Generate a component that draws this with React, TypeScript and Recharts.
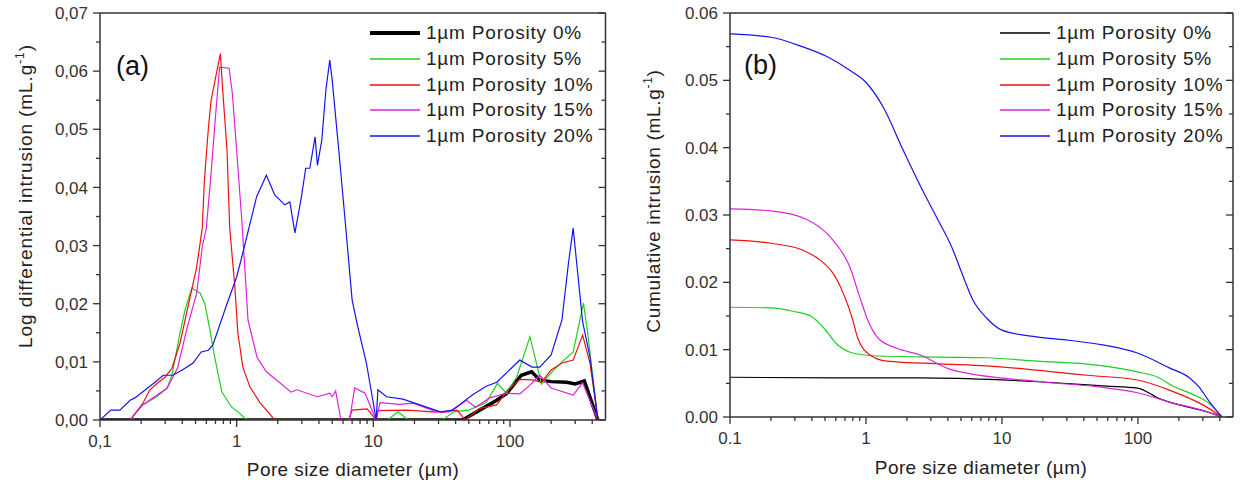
import React from "react";
import { LineChart, Line, XAxis, YAxis } from "recharts";

// ---------- shared x ticks (log scale) ----------
const xTicks = [0.1, 0.2, 0.3, 0.4, 0.5, 0.6, 0.7, 0.8, 0.9, 1, 2, 3, 4, 5, 6, 7, 8, 9, 10, 20, 30, 40, 50, 60, 70, 80, 90, 100, 200, 300, 400];
const xMajor = [0.1, 1, 10, 100];
const xMajorLabelsA = ["0,1", "1", "10", "100"];
const xMajorLabelsB = ["0.1", "1", "10", "100"];

// ---------- y ticks ----------
const yTicksA = [0, 0.005, 0.01, 0.015, 0.02, 0.025, 0.03, 0.035, 0.04, 0.045, 0.05, 0.055, 0.06, 0.065, 0.07];
const yMajorA = [0, 0.01, 0.02, 0.03, 0.04, 0.05, 0.06, 0.07];
const yMajorLabelsA = ["0,00", "0,01", "0,02", "0,03", "0,04", "0,05", "0,06", "0,07"];
const yTicksB = [0, 0.005, 0.01, 0.015, 0.02, 0.025, 0.03, 0.035, 0.04, 0.045, 0.05, 0.055, 0.06];
const yMajorB = [0, 0.01, 0.02, 0.03, 0.04, 0.05, 0.06];
const yMajorLabelsB = ["0.00", "0.01", "0.02", "0.03", "0.04", "0.05", "0.06"];

// ---------- series names / colors ----------
const seriesNames = ["1µm Porosity 0%", "1µm Porosity 5%", "1µm Porosity 10%", "1µm Porosity 15%", "1µm Porosity 20%"];
const seriesColors = ["#000000", "#22cc22", "#ee1111", "#dd22dd", "#1414ee"];

// ---------- panel (a): log differential intrusion ----------
const a0: [number, number][] = [[0.1, 0], [45, 0], [60, 0.0017], [80, 0.0034], [95, 0.0046], [121, 0.0077], [144, 0.0083], [165, 0.0069], [200, 0.0066], [260, 0.0065], [300, 0.0062], [350, 0.0067], [440, 0]];
const a5: [number, number][] = [[0.166, 0], [0.205, 0.0026], [0.26, 0.004], [0.31, 0.0055], [0.336, 0.0077], [0.385, 0.015], [0.42, 0.019], [0.47, 0.0227], [0.54, 0.0218], [0.585, 0.02], [0.637, 0.0155], [0.69, 0.0108], [0.78, 0.0048], [0.92, 0.0022], [1.02, 0.0014], [1.19, 0], [12.7, 0], [15.2, 0.0014], [18, 0], [32, 0], [39, 0.0014], [50, 0.0017], [67, 0.003], [81, 0.0063], [94, 0.0046], [112, 0.0074], [140, 0.0143], [170, 0.0062], [200, 0.0081], [240, 0.01], [290, 0.0117], [345, 0.0201], [370, 0.015], [440, 0]];
const a10: [number, number][] = [[0.166, 0], [0.205, 0.0028], [0.232, 0.0052], [0.265, 0.0064], [0.3, 0.0074], [0.336, 0.0089], [0.385, 0.0132], [0.43, 0.0184], [0.51, 0.0263], [0.56, 0.033], [0.58, 0.041], [0.62, 0.05], [0.65, 0.055], [0.76, 0.063], [0.79, 0.0568], [0.85, 0.0464], [0.89, 0.033], [0.97, 0.0229], [1.02, 0.015], [1.11, 0.0091], [1.25, 0.0057], [1.48, 0.003], [1.9, 0], [6.6, 0], [7, 0.0017], [9, 0.0019], [10.5, 0], [10.8, 0.0016], [17.5, 0.0017], [27, 0.0014], [33, 0.0014], [41, 0.0017], [47, 0], [60, 0.002], [80, 0.0026], [95, 0.005], [118, 0.007], [145, 0.0069], [170, 0.0065], [200, 0.0086], [240, 0.0098], [290, 0.0103], [340, 0.0146], [385, 0.0098], [440, 0]];
const a15: [number, number][] = [[0.166, 0], [0.205, 0.0026], [0.31, 0.0055], [0.37, 0.009], [0.43, 0.0155], [0.51, 0.0218], [0.56, 0.0298], [0.6, 0.033], [0.65, 0.0425], [0.71, 0.054], [0.75, 0.0607], [0.88, 0.0605], [0.93, 0.0562], [1.0, 0.0464], [1.09, 0.0344], [1.15, 0.0258], [1.21, 0.0172], [1.41, 0.0108], [1.65, 0.0083], [2.07, 0.0064], [2.5, 0.0048], [2.75, 0.0052], [3.9, 0.004], [4.8, 0.0046], [5.0, 0.004], [5.3, 0.005], [5.8, 0], [6.7, 0], [7.3, 0.0055], [8.7, 0.0046], [10.5, 0], [11.2, 0.003], [15.6, 0.0027], [19.6, 0.0029], [29, 0.0014], [36, 0.0014], [48, 0.0034], [56, 0.0022], [71, 0.0038], [94, 0.0046], [118, 0.0045], [140, 0.006], [165, 0.0077], [200, 0.0055], [290, 0.0043], [340, 0.0064], [440, 0]];
const a20: [number, number][] = [[0.1, 0], [0.12, 0.0017], [0.14, 0.0017], [0.166, 0.0034], [0.18, 0.0038], [0.25, 0.0064], [0.29, 0.0077], [0.34, 0.0077], [0.4, 0.0086], [0.48, 0.0098], [0.55, 0.0117], [0.62, 0.012], [0.67, 0.0129], [0.85, 0.02], [1.0, 0.0246], [1.09, 0.028], [1.4, 0.0384], [1.65, 0.0421], [1.9, 0.0387], [2.25, 0.037], [2.45, 0.0375], [2.67, 0.0322], [2.98, 0.0384], [3.2, 0.0433], [3.43, 0.0433], [3.75, 0.0487], [3.9, 0.0438], [4.2, 0.0482], [4.5, 0.0568], [4.8, 0.0619], [5.0, 0.0585], [5.7, 0.0442], [6.4, 0.031], [7.0, 0.0206], [7.7, 0.016], [8.9, 0.0098], [10.5, 0], [10.8, 0.0052], [12.5, 0.004], [16.5, 0.0036], [31, 0.0014], [38, 0.0017], [53, 0.0043], [67, 0.0058], [80, 0.0065], [118, 0.0103], [145, 0.0091], [165, 0.0091], [200, 0.0112], [240, 0.0172], [268, 0.027], [290, 0.033], [340, 0.0169], [385, 0.0108], [440, 0]];

// ---------- panel (b): cumulative intrusion ----------
const b0: [number, number][] = [[0.1, 0.0059], [0.6, 0.0058], [2.5, 0.0058], [10, 0.0055], [20, 0.0052], [59, 0.0046], [99, 0.0043], [145, 0.0027], [230, 0.0015], [320, 0.0008], [415, 0]];
const b5: [number, number][] = [[0.1, 0.0163], [0.2, 0.0162], [0.29, 0.0157], [0.4, 0.0149], [0.48, 0.0134], [0.62, 0.0107], [0.8, 0.0095], [1.13, 0.0091], [3.5, 0.0089], [7.7, 0.0088], [18, 0.0083], [50, 0.0077], [99, 0.0067], [140, 0.0059], [180, 0.0046], [250, 0.0034], [330, 0.0021], [415, 0]];
const b10: [number, number][] = [[0.1, 0.0263], [0.2, 0.0258], [0.34, 0.0248], [0.46, 0.0233], [0.57, 0.0214], [0.68, 0.0184], [0.8, 0.0144], [0.87, 0.0117], [1.07, 0.0092], [1.42, 0.0083], [3.5, 0.0079], [7.7, 0.0076], [42, 0.0062], [99, 0.0055], [170, 0.004], [300, 0.0018], [415, 0]];
const b15: [number, number][] = [[0.1, 0.0309], [0.2, 0.0306], [0.37, 0.0293], [0.57, 0.0263], [0.76, 0.0223], [0.9, 0.0178], [1.03, 0.0144], [1.23, 0.0117], [1.69, 0.0102], [2.5, 0.0092], [4.3, 0.007], [20, 0.0052], [50, 0.0045], [99, 0.0036], [180, 0.0021], [320, 0.0008], [415, 0]];
const b20: [number, number][] = [[0.1, 0.0569], [0.2, 0.0564], [0.34, 0.055], [0.52, 0.0535], [0.76, 0.0515], [1.01, 0.0496], [1.34, 0.046], [1.87, 0.0397], [2.6, 0.0337], [3.3, 0.0297], [4.3, 0.0251], [5.2, 0.0208], [6.1, 0.0174], [7.7, 0.0147], [10, 0.0129], [18, 0.0119], [31, 0.0114], [55, 0.0107], [99, 0.0095], [170, 0.0073], [240, 0.0058], [280, 0.0045], [340, 0.0021], [415, 0]];

const toPts = (arr: [number, number][]) => arr.map(([x, y]) => ({ x, y }));
const seriesA = [a0, a5, a10, a15, a20].map(toPts);
const seriesB = [b0, b5, b10, b15, b20].map(toPts);

const FONT = '"Liberation Sans", Arial, sans-serif';
const AXIS = "#333333";
const TXT = "#333333";

const near = (a: number, b: number) => Math.abs(a - b) <= 1e-9 + Math.abs(b) * 1e-9;

function makeXTick(side: "bottom" | "top", majors: number[], labels: string[]) {
  return (props: any) => {
    const { x, y, payload } = props;
    const idx = majors.findIndex((m) => near(m, payload.value));
    const major = idx >= 0;
    const len = major ? 7 : 4;
    if (side === "bottom") {
      return (
        <g>
          <line x1={x} x2={x} y1={y} y2={y + len} stroke={AXIS} strokeWidth={1.3} />
          {major && (
            <text x={x} y={y + 27} textAnchor="middle" fontSize={17} fontFamily={FONT} fill={TXT}>
              {labels[idx]}
            </text>
          )}
        </g>
      );
    }
    return <line x1={x} x2={x} y1={y} y2={y + len} stroke={AXIS} strokeWidth={1.3} />;
  };
}

function makeYTick(side: "left" | "right", majors: number[], labels: string[]) {
  return (props: any) => {
    const { x, y, payload } = props;
    const idx = majors.findIndex((m) => near(m, payload.value));
    const major = idx >= 0;
    const len = major ? 7 : 4;
    if (side === "left") {
      return (
        <g>
          <line x1={x - len} x2={x} y1={y} y2={y} stroke={AXIS} strokeWidth={1.3} />
          {major && (
            <text x={x - 12} y={y} dy="0.36em" textAnchor="end" fontSize={17} fontFamily={FONT} fill={TXT}>
              {labels[idx]}
            </text>
          )}
        </g>
      );
    }
    return <line x1={x - len} x2={x} y1={y} y2={y} stroke={AXIS} strokeWidth={1.3} />;
  };
}

function Legend({ left, top, thickFirst }: { left: number; top: number; thickFirst: boolean }) {
  return (
    <div style={{ position: "absolute", left, top }}>
      {seriesNames.map((n, i) => (
        <div key={n} style={{ position: "absolute", left: 0, top: i * 25.8, height: 24, width: 260, display: "flex", alignItems: "center" }}>
          <svg width={52} height={10} style={{ display: "block" }}>
            <line x1={0} x2={50} y1={5} y2={5} stroke={seriesColors[i]} strokeWidth={i === 0 && thickFirst ? 4 : i === 0 ? 1.3 : 2.2} opacity={i === 0 ? 1 : 0.75} />
          </svg>
          <span style={{ marginLeft: 4, fontSize: 19, letterSpacing: "0.8px", color: "#222", fontFamily: FONT, whiteSpace: "nowrap", lineHeight: "24px" }}>{n}</span>
        </div>
      ))}
    </div>
  );
}

function RotTitle({ cx, cy, text, spacing }: { cx: number; cy: number; text: string; spacing: number }) {
  return (
    <div
      style={{
        position: "absolute",
        left: cx,
        top: cy,
        transform: "translate(-50%, -50%) rotate(-90deg)",
        whiteSpace: "nowrap",
        fontSize: 19,
        letterSpacing: `${spacing}px`,
        color: "#222",
        fontFamily: FONT,
      }}
    >
      {text} (mL.g<sup style={{ fontSize: 12 }}>-1</sup>)
    </div>
  );
}

function Panel({ series, yTicks, yMajor, yMajorLabels, xLabels, yMax, margin, thickFirst, curve }: any) {
  return (
    <LineChart width={620} height={489} margin={margin}>
      <XAxis
        dataKey="x"
        type="number"
        scale="log"
        domain={[0.1, 500]}
        allowDataOverflow
        ticks={xTicks}
        interval={0}
        height={1}
        tickSize={0}
        tickMargin={0}
        tickLine={false}
        axisLine={{ stroke: AXIS, strokeWidth: 1.5 }}
        tick={makeXTick("bottom", xMajor, xLabels)}
      />
      <XAxis
        xAxisId="t"
        orientation="top"
        type="number"
        scale="log"
        domain={[0.1, 500]}
        allowDataOverflow
        ticks={xTicks}
        interval={0}
        height={1}
        tickSize={0}
        tickMargin={0}
        tickLine={false}
        axisLine={{ stroke: AXIS, strokeWidth: 1.5 }}
        tick={makeXTick("top", xMajor, xLabels)}
      />
      <YAxis
        type="number"
        domain={[0, yMax]}
        allowDataOverflow
        ticks={yTicks}
        interval={0}
        width={1}
        tickSize={0}
        tickMargin={0}
        tickLine={false}
        axisLine={{ stroke: AXIS, strokeWidth: 1.5 }}
        tick={makeYTick("left", yMajor, yMajorLabels)}
      />
      <YAxis
        yAxisId="r"
        orientation="right"
        type="number"
        domain={[0, yMax]}
        allowDataOverflow
        ticks={yTicks}
        interval={0}
        width={1}
        tickSize={0}
        tickMargin={0}
        tickLine={false}
        axisLine={{ stroke: AXIS, strokeWidth: 1.5 }}
        tick={makeYTick("right", yMajor, yMajorLabels)}
      />
      {series.map((d: any, i: number) => (
        <Line
          key={i}
          data={d}
          dataKey="y"
          type={curve}
          stroke={seriesColors[i]}
          strokeWidth={i === 0 && thickFirst ? 3.5 : 1.2}
          dot={false}
          activeDot={false}
          isAnimationActive={false}
          name={seriesNames[i]}
        />
      ))}
    </LineChart>
  );
}

export default function App() {
  return (
    <div style={{ position: "absolute", left: 0, top: 0, width: 1240, height: 489, background: "#fff", fontFamily: FONT, overflow: "hidden" }}>
      <div style={{ position: "absolute", left: 0, top: 0 }}>
        <Panel
          series={seriesA}
          yTicks={yTicksA}
          yMajor={yMajorA}
          yMajorLabels={yMajorLabelsA}
          xLabels={xMajorLabelsA}
          yMax={0.07}
          margin={{ top: 12, right: 13.5, bottom: 68, left: 99 }}
          thickFirst={true}
          curve="linear"
        />
      </div>
      <div style={{ position: "absolute", left: 620, top: 0 }}>
        <Panel
          series={seriesB}
          yTicks={yTicksB}
          yMajor={yMajorB}
          yMajorLabels={yMajorLabelsB}
          xLabels={xMajorLabelsB}
          yMax={0.06}
          margin={{ top: 12, right: 6, bottom: 71, left: 109 }}
          thickFirst={false}
          curve="monotone"
        />
      </div>
      {/* panel labels */}
      <div style={{ position: "absolute", left: 116, top: 51, fontSize: 27, color: "#111", fontFamily: FONT }}>(a)</div>
      <div style={{ position: "absolute", left: 744, top: 50, fontSize: 27, color: "#111", fontFamily: FONT }}>(b)</div>
      {/* legends */}
      <Legend left={370} top={21} thickFirst={true} />
      <Legend left={1000} top={21} thickFirst={false} />
      {/* axis titles */}
      <div style={{ position: "absolute", left: 353, top: 470, transform: "translate(-50%, -50%)", fontSize: 19, letterSpacing: "0.4px", color: "#222", whiteSpace: "nowrap" }}>
        Pore size diameter (µm)
      </div>
      <div style={{ position: "absolute", left: 981, top: 468, transform: "translate(-50%, -50%)", fontSize: 19, letterSpacing: "0.4px", color: "#222", whiteSpace: "nowrap" }}>
        Pore size diameter (µm)
      </div>
      <RotTitle cx={25} cy={196} text="Log differential intrusion" spacing={0.9} />
      <RotTitle cx={653} cy={201} text="Cumulative intrusion" spacing={0.7} />
    </div>
  );
}
